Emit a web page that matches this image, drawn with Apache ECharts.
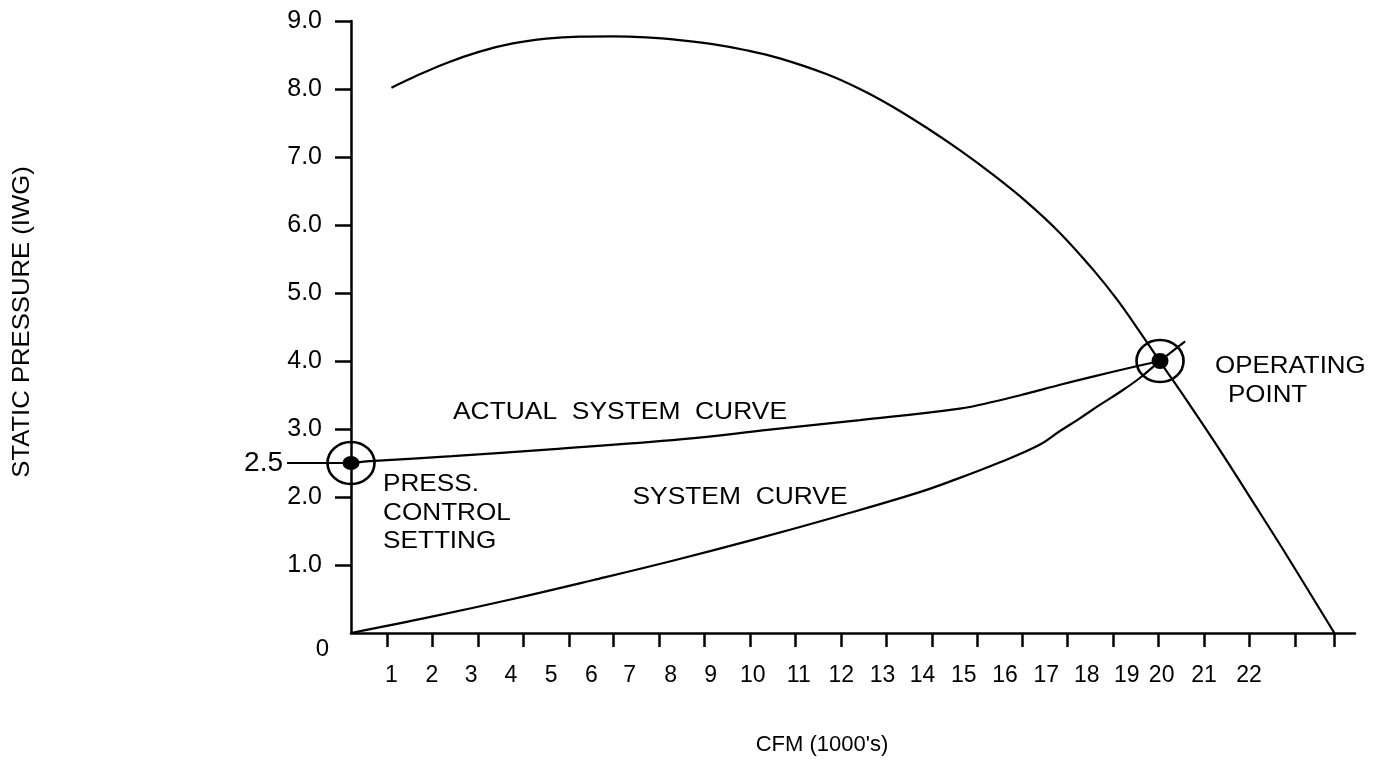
<!DOCTYPE html>
<html><head><meta charset="utf-8">
<script src="https://cdn.jsdelivr.net/npm/echarts@6/dist/echarts.min.js"></script>
<style>html,body{margin:0;padding:0;background:#fff}#c{width:1375px;height:765px}</style>
</head><body><div id="c"></div>
<script>
// ---- data ----
// x tick labels are printed slightly off the even grid in the original; their read positions are kept here
const xLabelValues = [1.0,2.0,2.97,3.95,4.95,5.94,6.89,7.9,8.89,9.93,11.07,12.12,13.14,14.13,15.15,16.17,17.19,18.19,19.18,20.04,21.09,22.2];
const xTickValues = [0.89,2.02,3.15,4.27,5.39,6.49,7.63,8.74,9.87,10.99,12.12,13.22,14.36,15.47,16.59,17.71,18.85,19.95,21.09,22.20,23.34,24.31];
const yLabelValues = [0,1,2,3,4,5,6,7,8,9];
const yTickValues = [1,2,3,4,5,6,7,8,9];
const pressSettingValue = [2.5];
const fanCurve = [[1.0,8.02],[1.53,8.17],[2.35,8.38],[3.18,8.55],[4.0,8.67],[4.83,8.74],[5.65,8.77],[6.47,8.775],[7.30,8.76],[8.12,8.72],[8.94,8.66],[9.77,8.57],[10.6,8.45],[11.75,8.22],[12.58,8.0],[13.39,7.74],[14.23,7.43],[15.05,7.1],[15.87,6.74],[16.7,6.34],[17.53,5.88],[18.35,5.34],[18.93,4.91],[19.5,4.43],[20.0,3.99],[20.66,3.42],[21.48,2.69],[22.23,1.99],[23.05,1.22],[24.31,0]];
const actualSystemCurve = [[0,2.5],[0.58,2.53],[2.5,2.6],[4.93,2.7],[8.2,2.85],[10.35,2.99],[12.58,3.13],[15.05,3.3],[15.88,3.4],[16.7,3.52],[17.53,3.65],[18.34,3.77],[19.18,3.89],[20,4.0]];
const systemCurve = [[0,0],[2,0.24],[4,0.5],[6,0.78],[8,1.07],[10,1.38],[12,1.71],[14,2.06],[15,2.27],[16,2.5],[17,2.76],[17.5,2.96],[18,3.15],[18.5,3.35],[19,3.54],[19.5,3.75],[20,4.0],[20.62,4.29]];
const pressControlSetting = [[0,2.5]];
const operatingPoint = [[20,4.0]];
const xName = "CFM (1000's)";
const yName = 'STATIC PRESSURE (IWG)';

const FONT = '"Liberation Sans", Arial, sans-serif';
const chart = echarts.init(document.getElementById('c'), null, {renderer: 'canvas'});
const lineStyle = {color: '#000', width: 2.2};
const ring = {color: 'rgba(0,0,0,0)', borderColor: '#000', borderWidth: 2.5, opacity: 1};

function txt(text, x, y, opts) {
  return Object.assign({
    type: 'text', x: x, y: y, silent: true,
    style: Object.assign({text: text, fill: '#000', fontSize: 24, fontFamily: FONT, align: 'left', verticalAlign: 'middle'}, (opts && opts.style) || {})
  }, (opts && opts.el) || {});
}

const noSplit = {show: false};
chart.setOption({
  animation: false,
  backgroundColor: '#fff',
  textStyle: {fontFamily: FONT, color: '#000'},
  grid: {left: 351, right: 20, top: 21, bottom: 132, containLabel: false},
  xAxis: {
    type: 'value', min: 0, max: 24.82,
    axisLine: {show: true, onZero: false, lineStyle: {color: '#000', width: 2.5}},
    axisTick: {show: true, customValues: xTickValues, length: 14, inside: false, lineStyle: {color: '#000', width: 2.5}},
    axisLabel: {show: true, customValues: xLabelValues, fontSize: 23, color: '#000', margin: 31, fontFamily: FONT,
      formatter: function (v) { return String(Math.round(v)); }},
    splitLine: noSplit
  },
  yAxis: [{
    type: 'value', min: 0, max: 9,
    axisLine: {show: true, onZero: false, lineStyle: {color: '#000', width: 2.5}},
    axisTick: {show: true, customValues: yTickValues, length: 16, inside: false, lineStyle: {color: '#000', width: 2.5}},
    axisLabel: {
      show: true, customValues: yLabelValues, margin: 22, color: '#000', fontFamily: FONT, fontSize: 25,
      formatter: function (v) {
        if (v === 0) return '{z|0}';
        return '{n|' + v.toFixed(1) + '}';
      },
      rich: {
        n: {fontSize: 25, fontFamily: FONT, color: '#000', padding: [0, 7, 0, 0]},
        z: {fontSize: 24, fontFamily: FONT, color: '#000', padding: [32, 0, 0, 0]}
      }
    },
    splitLine: noSplit
  }, {
    type: 'value', min: 0, max: 9, position: 'left', offset: 0,
    axisLine: {show: false},
    axisTick: {show: true, customValues: pressSettingValue, length: 64, inside: false, lineStyle: {color: '#000', width: 2.2}},
    axisLabel: {show: true, customValues: pressSettingValue, margin: 68, color: '#000', fontFamily: FONT, fontSize: 28,
      formatter: function (v) { return v.toFixed(1); }},
    splitLine: noSplit
  }],
  series: [
    {type: 'line', name: 'Fan curve', data: fanCurve, smooth: 0.4, symbol: 'none', lineStyle: lineStyle, silent: true},
    {type: 'line', name: 'Actual system curve', data: actualSystemCurve, smooth: 0.4, symbol: 'none', lineStyle: lineStyle, silent: true},
    {type: 'line', name: 'System curve', data: systemCurve, smooth: 0.4, symbol: 'none', lineStyle: lineStyle, silent: true},
    {type: 'scatter', name: 'Setting ring', data: pressControlSetting, clip: false, symbol: 'circle', symbolSize: [47, 42], itemStyle: ring, silent: true, z: 5},
    {type: 'scatter', name: 'Setting dot', data: pressControlSetting, clip: false, symbol: 'circle', symbolSize: [17, 14], itemStyle: {color: '#000', opacity: 1}, silent: true, z: 6},
    {type: 'scatter', name: 'Operating ring', data: operatingPoint, clip: false, symbol: 'circle', symbolSize: [47, 42], itemStyle: ring, silent: true, z: 5},
    {type: 'scatter', name: 'Operating dot', data: operatingPoint, clip: false, symbol: 'circle', symbolSize: [17, 16], itemStyle: {color: '#000', opacity: 1}, silent: true, z: 6}
  ],
  graphic: [
    txt('ACTUAL  SYSTEM  CURVE', 620, 412, {style: {align: 'center'}, el: {scaleX: 1.1}}),
    txt('PRESS.', 383, 484, {el: {scaleX: 1.09}}),
    txt('CONTROL', 383, 513, {el: {scaleX: 1.09}}),
    txt('SETTING', 383, 541, {el: {scaleX: 1.09}}),
    txt('SYSTEM  CURVE', 740, 497, {style: {align: 'center'}, el: {scaleX: 1.1}}),
    txt('OPERATING', 1215, 366, {el: {scaleX: 1.08}}),
    txt('POINT', 1228, 395, {el: {scaleX: 1.08}}),
    txt(xName, 822, 745, {style: {align: 'center', fontSize: 22}}),
    txt(yName, 22, 322, {style: {align: 'center', fontSize: 24}, el: {rotation: Math.PI / 2, scaleX: 1.07}})
  ]
});
</script>
</body></html>
